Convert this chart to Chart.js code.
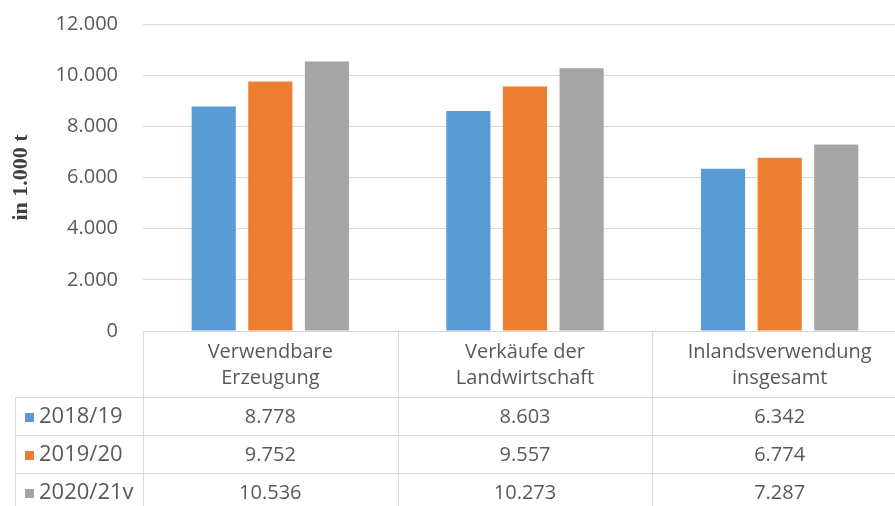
<!DOCTYPE html>
<html><head><meta charset="utf-8">
<script src="https://cdn.jsdelivr.net/npm/chart.js@4/dist/chart.umd.min.js"></script>
<style>
html,body{margin:0;padding:0;background:#fff;overflow:hidden;}
#wrap{position:relative;width:907px;height:506px;}
</style></head><body>
<div id="wrap"><canvas id="c"></canvas></div>
<script>
const categories = [["Verwendbare","Erzeugung"],["Verkäufe der","Landwirtschaft"],["Inlandsverwendung","insgesamt"]];
const seriesNames = ["2018/19","2019/20","2020/21v"];
const values2018 = [8778, 8603, 6342];
const values2019 = [9752, 9557, 6774];
const values2020 = [10536, 10273, 7287];
const yTickValues = [0, 2000, 4000, 6000, 8000, 10000, 12000];
const seriesColors = ["#5B9BD5", "#ED7D31", "#A5A5A5"];
const seriesValues = [values2018, values2019, values2020];

function fmt(v){ return String(v).replace(/\B(?=(\d{3})+(?!\d))/g, '.'); }

const TEXT = '#595959';
const LINE = '#D9D9D9';
const FONT = '"Open Sans", sans-serif';

const tablePlugin = {
  id: 'dataTable',
  afterDraw(chart) {
    const ctx = chart.ctx;
    const a = chart.chartArea;
    const n = categories.length;
    const catW = (a.right - a.left) / n;
    const headerBottom = a.bottom + 66;
    const rowH = 38;
    const tableLeft = 15;
    const bottom = chart.height + 10;
    ctx.save();
    ctx.strokeStyle = LINE;
    ctx.lineWidth = 1;
    ctx.beginPath();
    ctx.moveTo(a.left, a.bottom + 0.5); ctx.lineTo(a.right, a.bottom + 0.5);
    for (let k = 0; k < seriesNames.length; k++) {
      const y = Math.round(headerBottom + k * rowH) + 0.5;
      ctx.moveTo(tableLeft, y); ctx.lineTo(a.right, y);
    }
    for (let i = 0; i <= n; i++) {
      const x = Math.round(a.left + i * catW) + 0.5;
      ctx.moveTo(x, a.bottom); ctx.lineTo(x, bottom);
    }
    ctx.moveTo(tableLeft + 0.5, headerBottom); ctx.lineTo(tableLeft + 0.5, bottom);
    ctx.stroke();

    ctx.textBaseline = 'middle';
    for (let k = 0; k < seriesNames.length; k++) {
      const cy = headerBottom + k * rowH + rowH / 2 + 1;
      ctx.fillStyle = seriesColors[k];
      ctx.fillRect(25, Math.round(cy - 4.5), 9, 9);
      ctx.fillStyle = TEXT;
      ctx.textAlign = 'left';
      ctx.font = '22px ' + FONT;
      ctx.fillText(seriesNames[k], 39, cy);
      ctx.textAlign = 'center';
      ctx.font = '20px ' + FONT;
      for (let i = 0; i < n; i++) {
        const cx = chart.scales.x.getPixelForValue(i);
        ctx.fillText(fmt(seriesValues[k][i]), cx, cy);
      }
    }
    ctx.restore();
  }
};

new Chart(document.getElementById('c'), {
  type: 'bar',
  data: {
    labels: categories,
    datasets: seriesNames.map((name, k) => ({
      label: name,
      data: seriesValues[k],
      backgroundColor: seriesColors[k],
      categoryPercentage: 0.667,
      barPercentage: 0.78
    }))
  },
  options: {
    responsive: true,
    maintainAspectRatio: false,
    animation: false,
    layout: { padding: { top: 24, left: 0, right: 0, bottom: 0 } },
    plugins: { legend: { display: false }, tooltip: { enabled: false } },
    scales: {
      x: {
        grid: { display: false, drawTicks: false },
        border: { display: false },
        ticks: { color: TEXT, font: { family: FONT, size: 20, lineHeight: 1.3 }, padding: 8, maxRotation: 0, autoSkip: false },
        afterFit(s) { s.height = 175; }
      },
      y: {
        min: 0, max: 12000,
        afterBuildTicks(s) { s.ticks = yTickValues.map(v => ({ value: v })); },
        grid: { color: LINE, drawTicks: false },
        border: { display: false },
        ticks: { color: TEXT, font: { family: FONT, size: 20 }, padding: 25, callback: v => fmt(v) },
        title: { display: true, text: 'in 1.000 t', color: '#404040', font: { family: '"Liberation Serif", serif', size: 22, weight: 'bold' }, padding: { top: 8, bottom: 0 } },
        afterFit(s) { s.width = 143; s.paddingTop = 0; s.paddingBottom = 0; }
      }
    }
  },
  plugins: [tablePlugin]
});
</script>
</body></html>
